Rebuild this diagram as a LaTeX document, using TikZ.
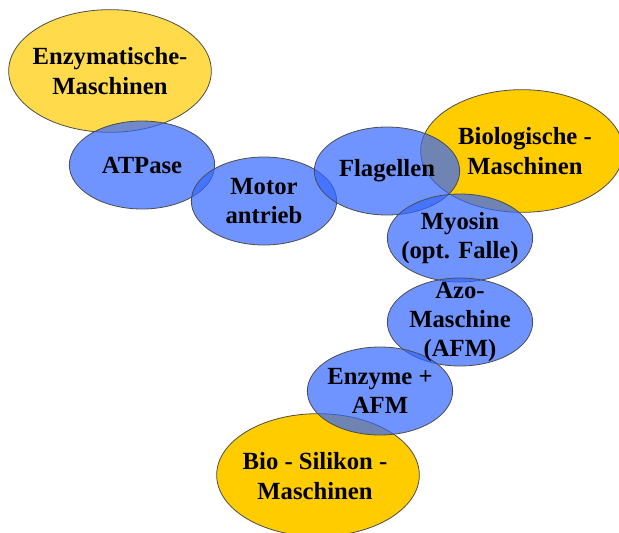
\documentclass[tikz,border=0pt]{standalone}
\usepackage{fontspec}
\setmainfont{Liberation Serif}
\usetikzlibrary{shapes.geometric}
\definecolor{gelb}{RGB}{255,204,0}
\definecolor{blau}{RGB}{51,102,255}

\begin{document}
\begin{tikzpicture}[x=0.75pt,y=-0.75pt,
  blob/.style={ellipse,draw=black!70,line width=0.6pt,inner sep=0pt},
  gross/.style={blob,fill=gelb,minimum width=152pt,minimum height=92pt},
  klein/.style={blob,fill=blau,fill opacity=0.7,minimum width=109pt,minimum height=66pt},
  schrift/.style={font=\bfseries\fontsize{18.5}{22}\selectfont,align=center,inner sep=0pt}]
\useasboundingbox (0,0) rectangle (619,533);
\node[gross,fill opacity=0.7] (enzm) at (110,71) {};
\node[gross] (biom) at (522,151) {};
\node[gross] (siliz) at (318,475) {};
\node[klein] (atp) at (142,165) {};
\node[klein] (motor) at (264,201) {};
\node[klein] (flag) at (387,171) {};
\node[klein] (myo) at (460,238) {};
\node[klein] (azo) at (460,322) {};
\node[klein] (afm) at (380,391) {};
\node[schrift] (enzm-t) at (enzm) {Enzymatische-\\Maschinen};
\node[schrift] (biom-t) at (525,151) {Biologische -\\Maschinen};
\node[schrift] (siliz-t) at (315,476) {Bio - Silikon -\\Maschinen};
\node[schrift] (atp-t) at (atp) {ATPase};
\node[schrift] (motor-t) at (motor) {Motor\\antrieb};
\node[schrift] (flag-t) at (flag) {Flagellen};
\node[schrift] (myo-t) at (myo) {Myosin\\(opt. Falle)};
\node[schrift] (azo-t) at (azo) {Azo-\\Maschine\\(AFM)};
\node[schrift] (afm-t) at (afm) {Enzyme +\\AFM};
\end{tikzpicture}
\end{document}
